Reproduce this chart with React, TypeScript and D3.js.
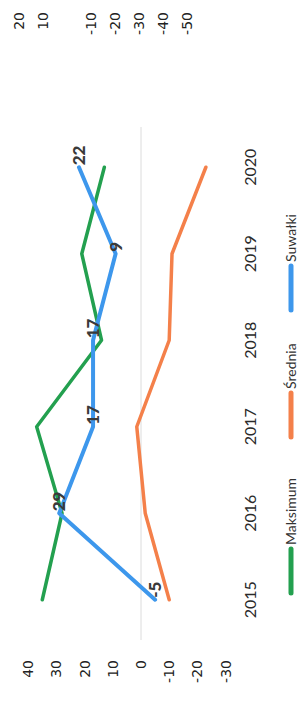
import React from "react";
import * as d3 from "d3";

const categories = ["2015", "2016", "2017", "2018", "2019", "2020"];
const maksimum = [35, 28, 37, 14, 21, 13];
const srednia = [-10, -1.5, 1.5, -10, -11, -23];
const suwalki = [-5, 29, 17, 17, 9, 22];
const valueTicks = [40, 30, 20, 10, 0, -10, -20, -30];
const upperTicks = [20, 10, -10, -20, -30, -40, -50];
const seriesNames = ["Maksimum", "Średnia", "Suwałki"];
const seriesColors = ["#23a04f", "#f4804a", "#3d97ec"];

const W = 298;
const H = 713;

export default function App() {
  // chart frame (before rotation): x along categories, y along values
  const x = d3.scaleBand<string>().domain(categories).range([70, 589]);
  const y = d3.scaleLinear().domain([-30, 40]).range([225.6, 28.2]);
  const yUpper = d3.scaleLinear().domain([20, -50]).range([19, 187]);
  const cx = (c: string) => (x(c) as number) + x.bandwidth() / 2;

  const line = d3
    .line<number>()
    .x((_, i) => cx(categories[i]))
    .y((v) => y(v));

  const allSeries = [maksimum, srednia, suwalki];
  const legendStarts = [120, 276, 403];

  return (
    <svg
      width={W}
      height={H}
      style={{ position: "absolute", left: 0, top: 0, background: "#fff" }}
    >
      <rect width={W} height={H} fill="#fff" />
      <g transform={`translate(0,${H}) rotate(-90)`}>
        {/* zero gridline */}
        <line
          x1={73}
          x2={586}
          y1={y(0)}
          y2={y(0)}
          stroke="#dcdcdc"
          strokeWidth={1}
        />
        {/* value axis labels */}
        {valueTicks.map((t) => (
          <text
            key={t}
            x={53}
            y={y(t)}
            dy="0.35em"
            textAnchor="end"
            fontFamily="DejaVu Sans"
            fontSize={14}
            fill="#222"
          >
            {String(t)}
          </text>
        ))}
        {/* upper (cropped) chart axis labels */}
        {upperTicks.map((t) => (
          <text
            key={"u" + t}
            x={701}
            y={yUpper(t)}
            dy="0.35em"
            textAnchor="end"
            fontFamily="DejaVu Sans"
            fontSize={14}
            fill="#222"
          >
            {String(t)}
          </text>
        ))}
        {/* category labels */}
        {categories.map((c) => (
          <text
            key={c}
            x={cx(c)}
            y={256}
            textAnchor="middle"
            fontFamily="Lato"
            fontSize={16}
            fill="#2a2a2a"
          >
            {c}
          </text>
        ))}
        {/* lines */}
        {allSeries.map((s, i) => (
          <path
            key={i}
            d={line(s) as string}
            fill="none"
            stroke={seriesColors[i]}
            strokeWidth={i === 2 ? 4 : 3.5}
            strokeLinejoin="round"
            strokeLinecap="round"
          />
        ))}
        {/* data labels for Suwałki */}
        {suwalki.map((v, i) => (
          <text
            key={"l" + i}
            x={cx(categories[i]) + 2}
            y={y(v)}
            dy="0.35em"
            textAnchor="start"
            fontFamily="Lato"
            fontWeight="900"
            fontSize={17}
            fill="#3a3a3a"
          >
            {String(v)}
          </text>
        ))}
        {/* legend */}
        {seriesNames.map((n, i) => (
          <g key={n}>
            <line
              x1={legendStarts[i]}
              x2={legendStarts[i] + 44}
              y1={291}
              y2={291}
              stroke={seriesColors[i]}
              strokeWidth={5}
              strokeLinecap="round"
            />
            <text
              x={legendStarts[i] + 48}
              y={295.5}
              fontFamily="Lato"
              fontSize={14}
              fill="#333"
            >
              {n}
            </text>
          </g>
        ))}
      </g>
    </svg>
  );
}
